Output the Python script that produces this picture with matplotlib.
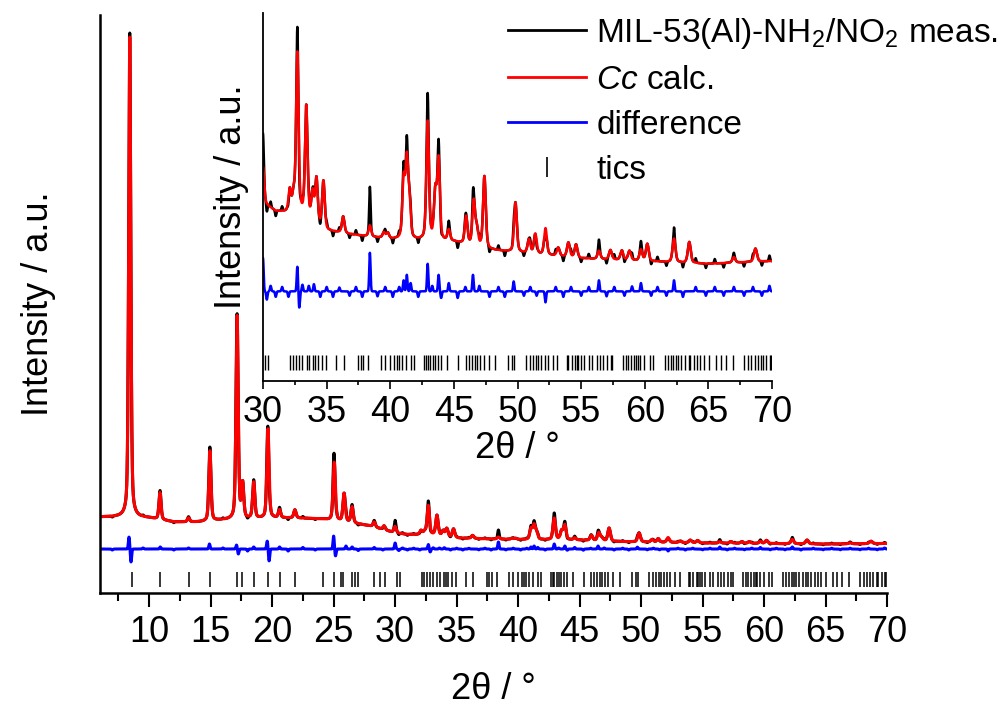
import numpy as np
import matplotlib.pyplot as plt
from matplotlib.lines import Line2D
from matplotlib.ticker import MultipleLocator

plt.rcParams["font.family"] = ["Liberation Sans", "DejaVu Sans"]
plt.rcParams["mathtext.fontset"] = "custom"
plt.rcParams["mathtext.rm"] = "Liberation Sans"
plt.rcParams["mathtext.it"] = "Liberation Sans:italic"

# background knots of the refined pattern (2theta, intensity)
bg_pos = [6, 8, 10, 12, 14, 16, 18, 20, 22, 24, 26, 28, 30, 31, 33, 35, 37, 40, 45, 48, 55, 60, 65, 70]
bg_int = [76, 76, 75, 71, 71, 73, 74, 75, 75, 74, 71, 67, 60, 58.5, 58, 55, 54.3, 53.5, 53, 51.5, 50, 49.5, 49, 49.5]

# calculated reflections: position and peak height above background
peak_pos = [8.42, 10.88, 13.2, 14.94, 17.15, 17.6, 18.5, 19.66, 20.6, 21.85,
            25.05, 25.85, 26.5, 28.3, 29.1, 30.0,
            32.1, 32.4, 32.7, 33.4, 33.9, 34.2, 34.75, 36.3, 38.4, 39.5, 39.8,
            41.05, 41.3, 41.5, 42.94, 43.54, 43.8, 44.6, 45.96, 46.56, 46.8, 47.4,
            49.84, 50.9, 51.4, 52.2, 53.2, 54.0, 54.6, 56.4, 57.3, 58.2, 58.8,
            59.7, 60.2, 62.3, 63.5, 67.0, 68.7]
peak_height = [480, 27, 4, 70, 203, 34, 36, 89, 8, 8,
               58, 28, 16, 5, 4, 6.5,
               4, 3, 29, 20, 5, 8, 8.5, 3, 2, 1, 1,
               10.5, 13.5, 6.5, 21.5, 8.5, 14.5, 2, 5, 8, 3, 13,
               9, 2.5, 3.6, 4.8, 1.5, 2.6, 2.4, 1.5, 1.7, 1.7, 1.7,
               2, 3.1, 4.3, 3.8, 1, 2.4]

# observed minus calculated misfit features
resid_pos = [7.0, 8.36, 8.52, 9.5, 10.9, 12.0, 13.2, 14.9, 16.0, 17.1, 17.25, 18.0, 18.5,
             19.6, 19.75, 20.6, 21.3, 22.5, 23.5, 25.0, 25.15, 26.0, 26.5, 27.0, 28.3, 29.0,
             30.0, 30.3, 30.6, 31.0, 31.5, 32.0, 32.7, 32.85, 33.1, 33.6, 34.0, 34.5, 35.0,
             35.5, 36.0, 36.8, 37.3, 37.8, 38.4, 39.0, 39.6, 40.2, 40.7, 41.05, 41.3, 41.6,
             42.2, 42.94, 43.3, 43.8, 44.0, 44.6, 45.3, 45.9, 46.5, 47.0, 47.8, 48.5, 49.0,
             49.7, 50.5, 51.0, 51.5, 52.2, 53.0, 53.6, 54.2, 55.0, 55.6, 56.4, 57.0, 57.6,
             58.4, 59.0, 59.7, 60.5, 61.0, 61.7, 62.3, 63.0, 64.0, 64.8, 65.5, 66.2, 67.0,
             67.8, 68.5, 69.2, 69.8]
resid_amp = [-1, 12, -13, 1, 2, -1, 1, 5, 1, 4, -5, -2, 2,
             8, -12, 2, -2, 1.5, -1, 13, -7, 3, 2, -1.5, 1.5, -1,
             6, -1.5, 1, -1, 0.8, -1, 4.5, -3, 1.2, 1, 1.3, -1, 0.8,
             -1, 0.7, -0.8, 0.8, -1, 7, -0.9, 0.8, -1, 0.8, 2, 3, 1.5,
             -1, 5, 1, 3, -1.2, 1.5, -1.2, 0.8, 3, 1, -1, 0.8, -1,
             1.8, -0.8, 0.8, -0.8, -2, 0.8, -1, 0.8, -0.8, 0.8, 2, -0.9, 0.8,
             -0.8, 0.9, 1.5, -0.8, 0.8, -0.8, 2, -1, 0.8, -0.8, 0.8, -0.8, 0.8,
             -0.8, 0.8, -0.8, 1]

# Bragg reflection positions (Cc)
tics = [8.57, 10.88, 13.26, 14.94, 17.11, 17.52, 18.52, 19.63, 20.63, 21.85,
        24.1, 25.05, 25.6, 25.8, 26.46, 26.73, 27.0, 28.3, 28.76, 29.17, 30.12,
        30.43, 32.16, 32.35, 32.56, 32.83, 33.10, 33.42, 33.63, 33.95, 34.11,
        34.29, 34.64, 34.96, 35.76, 36.34, 37.49, 37.67, 37.89, 38.29, 39.27,
        39.62, 39.96, 40.28, 40.50, 40.68, 40.90, 41.21, 41.61, 41.88, 42.68,
        42.81, 42.95, 43.16, 43.34, 43.48, 43.74, 43.96, 44.49, 45.34, 45.93,
        46.19, 46.41, 46.67, 46.80, 47.07, 47.34, 47.74, 48.27, 49.28, 49.60,
        49.73, 50.66, 50.98, 51.20, 51.46, 51.60, 51.86, 52.13, 52.39, 52.79,
        53.14, 53.86, 53.99, 54.26, 54.52, 54.66, 54.79, 54.98, 55.19, 55.59,
        55.85, 56.25, 56.47, 56.73, 57.05, 57.32, 57.45, 58.33, 58.52, 58.70,
        58.92, 59.18, 59.31, 59.45, 59.66, 59.98, 60.38, 60.65, 61.58, 61.79,
        62.06, 62.24, 62.43, 62.64, 62.85, 63.17, 63.44, 63.57, 63.84, 64.11,
        64.37, 64.64, 65.04, 65.57, 65.97, 66.37, 66.90, 67.83, 68.10, 68.36,
        68.63, 68.90, 69.16, 69.30, 69.56, 69.83, 69.95]

DIFF_OFFSET = 44


def fwhm(two_theta):
    # peaks broaden slowly towards high angle
    return 0.2 + 0.0012 * (two_theta - 6)


def pseudo_voigt(x, centre, height, width, eta=0.4):
    d = (x - centre) / (width / 2)
    gauss = np.exp(-np.log(2) * d ** 2)
    lorentz = 1 / (1 + d ** 2)
    return height * ((1 - eta) * gauss + eta * lorentz)


tt = np.arange(6.0, 70.0, 0.01)
calc = np.interp(tt, bg_pos, bg_int)
for c, h in zip(peak_pos, peak_height):
    calc = calc + pseudo_voigt(tt, c, h, fwhm(c))
diff = np.zeros_like(tt)
for c, a in zip(resid_pos, resid_amp):
    diff = diff + pseudo_voigt(tt, c, a, 0.12, eta=0.0)
meas = calc + diff

fig = plt.figure(figsize=(10.02, 7.11), dpi=100)
ax = fig.add_axes([100 / 1002, 118 / 711, 787 / 1002, 578 / 711])
ins = fig.add_axes([263 / 1002, 330 / 711, 509 / 1002, 368 / 711])
ins.patch.set_alpha(0)

for a, lw in ((ax, 2.2), (ins, 1.8)):
    a.plot(tt, meas, color="black", lw=lw)
    a.plot(tt, calc, color="red", lw=lw)
    a.plot(tt, diff + DIFF_OFFSET, color="blue", lw=lw)
    for s in ("top", "right"):
        a.spines[s].set_visible(False)
    a.set_yticks([])
    a.xaxis.set_major_locator(MultipleLocator(5))
    a.xaxis.set_minor_locator(MultipleLocator(2.5))

ax.vlines(tics, 0.010, 0.036, transform=ax.get_xaxis_transform(), color="black", lw=1.1)
ins.vlines(tics, 0.030, 0.071, transform=ins.get_xaxis_transform(), color="black", lw=1.0)

ax.set_xlim(6, 70)
ax.set_ylim(0, 578)
ins.set_xlim(30, 70)
ins.set_ylim(27.7, 94.6)

for s in ax.spines.values():
    s.set_linewidth(1.8)
for s in ins.spines.values():
    s.set_linewidth(1.3)
ax.tick_params(axis="x", which="major", length=10, width=1.5, labelsize=26, pad=6)
ax.tick_params(axis="x", which="minor", length=6, width=1.5)
ins.tick_params(axis="x", which="major", length=6, width=1.2, labelsize=26, pad=4)
ins.tick_params(axis="x", which="minor", length=3, width=1.2)

ax.set_xlabel("2θ / °", fontsize=26, labelpad=16)
ax.set_ylabel("Intensity / a.u.", fontsize=26, labelpad=32)
ins.set_xlabel("2θ / °", fontsize=26, labelpad=1)
ins.set_ylabel("Intensity / a.u.", fontsize=26, labelpad=10)

handles = [
    Line2D([], [], color="black", lw=2),
    Line2D([], [], color="red", lw=2),
    Line2D([], [], color="blue", lw=2),
    Line2D([], [], color="black", marker="|", ls="none", markersize=14, mew=1.2),
]
labels = ["MIL-53(Al)-NH$_2$/NO$_2$ meas.", "$\\it{Cc}$ calc.", "difference", "tics"]
fig.legend(handles, labels, loc="upper left", bbox_to_anchor=(508 / 1002, 1 - 16 / 711),
           frameon=False, fontsize=24, handlelength=2.35, handletextpad=0.3,
           labelspacing=0.42, borderpad=0, borderaxespad=0)

fig.savefig("out.png", dpi=100)
